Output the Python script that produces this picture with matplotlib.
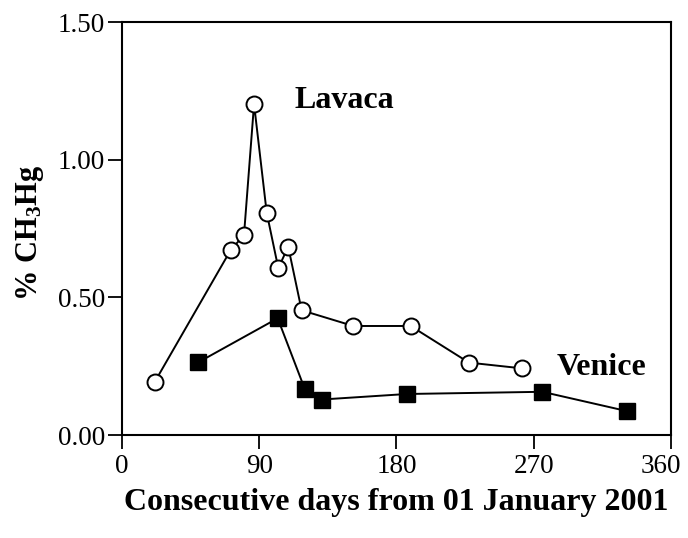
import numpy as np
import matplotlib
matplotlib.use("Agg")
import matplotlib.pyplot as plt
import matplotlib.transforms as mtransforms

plt.rcParams['font.family'] = ['Liberation Serif', 'DejaVu Serif']
plt.rcParams['mathtext.fontset'] = 'custom'
plt.rcParams['mathtext.rm'] = 'Liberation Serif:bold'
plt.rcParams['mathtext.default'] = 'rm'

# Lavaca (open circles)
lavaca_day = [21.6, 71.3, 80.0, 86.6, 94.9, 102.5, 109.0, 117.8, 151.7, 189.3, 227.5, 262.5]
lavaca_pct = [0.194, 0.672, 0.726, 1.202, 0.807, 0.606, 0.684, 0.453, 0.396, 0.396, 0.263, 0.242]

# Venice (filled squares)
venice_day = [50.0, 102.1, 119.8, 131.1, 186.7, 275.6, 331.0]
venice_pct = [0.264, 0.424, 0.168, 0.129, 0.149, 0.157, 0.087]

xticks = [0, 90, 180, 270, 360]
yticks = [0.0, 0.5, 1.0, 1.5]

fig = plt.figure(figsize=(6.88, 5.38), dpi=100)
ax = fig.add_axes([0.1773, 0.1914, 0.7980, 0.7677])

ax.plot(lavaca_day, lavaca_pct, "-o", color="black", lw=1.4,
        markerfacecolor="white", markeredgecolor="black", markeredgewidth=1.4,
        markersize=11.5, zorder=3)
ax.plot(venice_day, venice_pct, "-s", color="black", lw=1.4,
        markerfacecolor="black", markeredgecolor="black",
        markersize=11.5, zorder=3)

ax.text(113, 1.215, "Lavaca", fontsize=23, fontweight="bold", va="center", ha="left")
ax.text(285, 0.245, "Venice", fontsize=23, fontweight="bold", va="center", ha="left")

ax.set_xlim(0, 360)
ax.set_ylim(0, 1.5)
ax.set_xticks(xticks)
ax.set_xticklabels([str(t) for t in xticks])
ax.set_yticks(yticks)
ax.set_yticklabels(["%.2f" % t for t in yticks])
ax.tick_params(direction="out", length=10, width=1.3, labelsize=19.5, color="black")
ax.tick_params(axis="y", pad=2)
ax.tick_params(axis="x", pad=4)

# last x label sits a bit left of its tick, as in the original
lab = ax.get_xticklabels()[-1]
lab.set_transform(lab.get_transform() + mtransforms.ScaledTranslation(-10 / 100, 0, fig.dpi_scale_trans))

for s in ax.spines.values():
    s.set_linewidth(1.5)

ax.set_xlabel("Consecutive days from 01 January 2001", fontsize=23, fontweight="bold", labelpad=6)
ax.set_ylabel(r"% CH$_3$Hg", fontsize=22, fontweight="bold")
ax.yaxis.set_label_coords(-0.138, 0.49)

plt.savefig("out.png", dpi=100)
